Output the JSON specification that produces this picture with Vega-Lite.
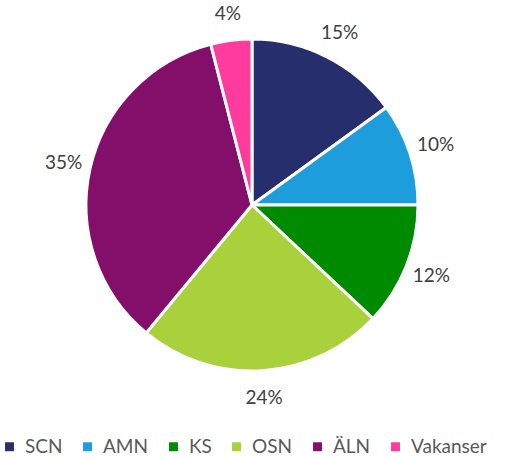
{
  "$schema": "https://vega.github.io/schema/vega-lite/v6.json",
  "width": 504,
  "height": 410,
  "autosize": {"type": "none"},
  "padding": {"left": 0, "top": 0, "right": 5, "bottom": 49},
  "background": "white",
  "data": {"values": [
    {"cat": "SCN", "value": 15, "order": 1, "label": "15%"},
    {"cat": "AMN", "value": 10, "order": 2, "label": "10%"},
    {"cat": "KS", "value": 12, "order": 3, "label": "12%"},
    {"cat": "OSN", "value": 24, "order": 4, "label": "24%"},
    {"cat": "ÄLN", "value": 35, "order": 5, "label": "35%"},
    {"cat": "Vakanser", "value": 4, "order": 6, "label": "4%"}
  ]},
  "encoding": {
    "theta": {"field": "value", "type": "quantitative", "stack": true},
    "order": {"field": "order", "type": "quantitative"},
    "color": {
      "field": "cat", "type": "nominal",
      "scale": {"domain": ["SCN", "AMN", "KS", "OSN", "ÄLN", "Vakanser"],
                "range": ["#262E6E", "#1E9DDC", "#008A00", "#A9D13B", "#840F6B", "#FF3C9E"]},
      "legend": {
        "orient": "bottom", "direction": "horizontal", "title": null,
        "symbolType": "square", "symbolSize": 80, "symbolStrokeWidth": 0,
        "labelFontSize": 19, "labelFont": "Lato", "labelColor": "#595959",
        "columnPadding": 15, "offset": 27, "labelOffset": 6
      }
    }
  },
  "layer": [
    {"mark": {"type": "arc", "outerRadius": 166, "stroke": "white", "strokeWidth": 3}},
    {"mark": {"type": "text", "radius": 193, "fontSize": 19, "font": "Lato", "color": "#404040"},
     "encoding": {"text": {"field": "label"}, "color": {"value": "#404040"}}}
  ]
}
